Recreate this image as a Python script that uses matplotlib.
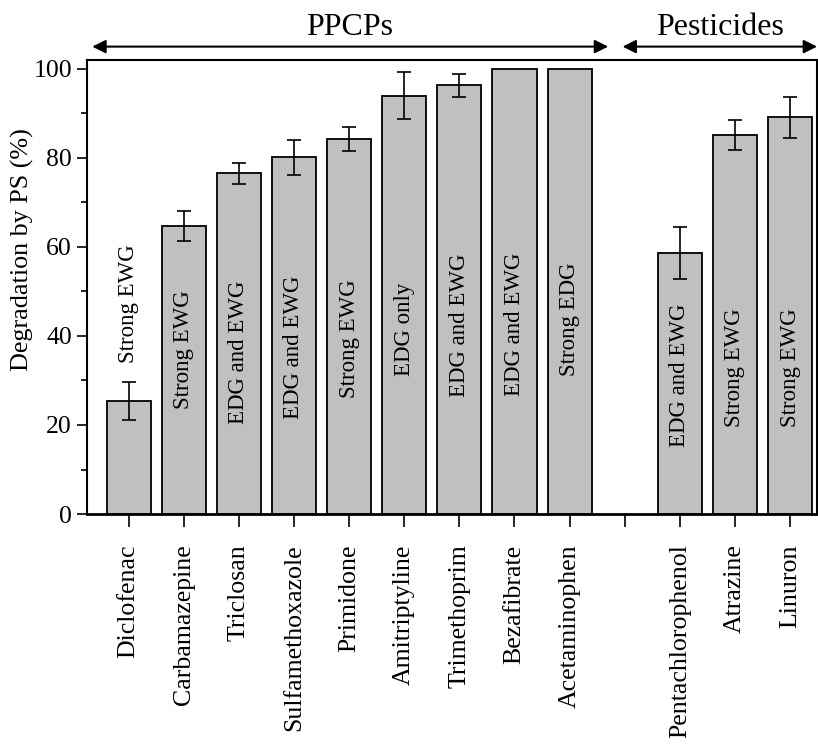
import matplotlib.pyplot as plt
import numpy as np

plt.rcParams['font.family'] = 'Liberation Serif'

compounds = ['Diclofenac', 'Carbamazepine', 'Triclosan', 'Sulfamethoxazole',
             'Primidone', 'Amitriptyline', 'Trimethoprim', 'Bezafibrate',
             'Acetaminophen', 'Pentachlorophenol', 'Atrazine', 'Linuron']
degradation = [25.4, 64.7, 76.5, 80.1, 84.3, 94.0, 96.3, 100.0, 100.0,
               58.7, 85.1, 89.1]
errors = [4.35, 3.3, 2.45, 3.9, 2.7, 5.3, 2.65, 0.0, 0.0, 5.8, 3.35, 4.6]
groups = ['Strong EWG', 'Strong EWG', 'EDG and EWG', 'EDG and EWG',
          'Strong EWG', 'EDG only', 'EDG and EWG', 'EDG and EWG',
          'Strong EDG', 'EDG and EWG', 'Strong EWG', 'Strong EWG']

# PPCPs on 0-8, one empty slot, pesticides on 10-12
xpos = np.array(list(range(9)) + [10, 11, 12])

fig = plt.figure(figsize=(8.18, 7.44), dpi=100)
ax = fig.add_axes([0.1059, 0.3091, 0.893, 0.6103])

ax.bar(xpos, degradation, width=0.8, color='#c0c0c0', edgecolor='black',
       linewidth=1.3, zorder=2)
errs = np.array(errors)
mask = errs > 0
ax.errorbar(xpos[mask], np.array(degradation)[mask], yerr=errs[mask],
            fmt='none', ecolor='black', elinewidth=1.2, capsize=5,
            capthick=1.2, zorder=3)

# in-bar labels (Diclofenac sits above its bar)
label_y = [47.2, 36.9, 36.3, 37.4, 39.3, 41.5, 42.5, 42.6, 43.7,
           31.1, 32.9, 32.9]
for x, g, y in zip(xpos, groups, label_y):
    ax.text(x, y, g, rotation=90, ha='center', va='center', fontsize=16.5)

ax.set_xlim(-0.762, 12.49)
ax.set_ylim(0, 102)
ax.set_xticks(range(13))
ax.set_xticklabels(compounds[:9] + [''] + compounds[9:], rotation=90,
                   fontsize=18.6)
ax.set_yticks([0, 20, 40, 60, 80, 100])
ax.set_yticks([10, 30, 50, 70, 90], minor=True)
ax.tick_params(axis='y', labelsize=18.5, direction='out', length=7, width=1.2)
ax.tick_params(axis='y', which='minor', direction='out', length=4, width=1.2)
ax.tick_params(axis='x', direction='out', length=9, width=1.2, pad=13)
fig.text(0.027, 0.664, 'Degradation by PS (%)', rotation=90, ha='center',
         va='center', fontsize=18.8)

for s in ['left', 'top', 'right']:
    ax.spines[s].set_linewidth(1.5)
ax.spines['bottom'].set_linewidth(2)

# group headers with double-headed arrows
arrow = dict(arrowstyle='<|-|>', color='black', lw=1.5, mutation_scale=20,
             shrinkA=0, shrinkB=0)
ax.annotate('', xy=(-0.66, 105.0), xytext=(8.70, 105.0), arrowprops=arrow,
            annotation_clip=False)
ax.annotate('', xy=(8.96, 105.0), xytext=(12.49, 105.0), arrowprops=arrow,
            annotation_clip=False)
ax.text(4.0, 107.6, 'PPCPs', ha='center', va='baseline', fontsize=23)
ax.text(10.72, 107.6, 'Pesticides', ha='center', va='baseline', fontsize=23)

fig.savefig('out.png', dpi=100)
